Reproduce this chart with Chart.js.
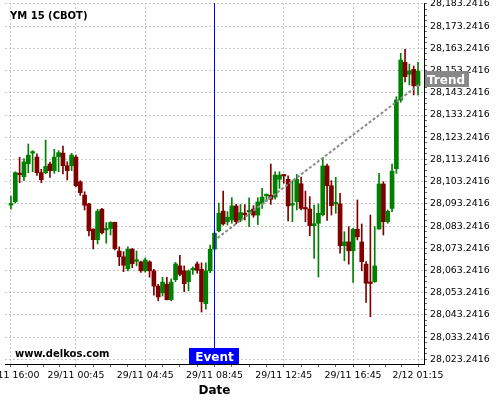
<!DOCTYPE html>
<html><head><meta charset="utf-8">
<script src="https://cdn.jsdelivr.net/npm/chart.js@4.4.0/dist/chart.umd.min.js"></script>
<style>html,body{margin:0;padding:0;background:#fff}#wrap{width:500px;height:400px}</style>
</head><body><div id="wrap"><canvas id="c" width="500" height="400"></canvas></div>
<script>
const opens = [28092.7,28094.2,28107.0,28105.5,28111.3,28116.1,28114.3,28107.3,28107.3,28111.2,
28108.2,28114.5,28116.1,28110.4,28110.4,28114.3,28103.1,28097.2,28093.2,28081.9,
28077.1,28090.8,28081.5,28082.2,28084.9,28072.0,28069.4,28064.0,28072.8,28067.4,
28067.1,28063.1,28067.1,28063.1,28056.2,28053.2,28057.1,28050.1,28059.1,28065.3,
28063.1,28058.2,28063.5,28066.2,28063.8,28048.3,28063.1,28072.9,28081.1,28090.0,
28085.2,28086.0,28092.3,28086.0,28089.0,28089.6,28090.9,28088.2,28093.2,28096.9,
28097.1,28096.3,28104.3,28106.1,28104.3,28092.7,28094.2,28102.3,28091.5,28090.9,
28083.4,28084.5,28088.4,28110.3,28101.4,28093.2,28093.2,28074.4,28076.1,28072.1,
28081.8,28076.1,28066.1,28057.6,28058.2,28081.9,28102.2,28085.2,28091.2,28109.1,
28140.0,28157.0,28151.6,28153.8,28146.4];
const highs = [28096.8,28107.7,28114.2,28113.6,28120.2,28117.2,28115.8,28108.8,28122.0,28112.1,
28117.8,28117.2,28119.3,28112.2,28116.0,28115.2,28103.7,28098.7,28093.5,28082.0,
28090.8,28091.2,28084.8,28085.2,28085.0,28073.9,28071.7,28073.9,28073.2,28072.0,
28067.5,28068.9,28067.6,28063.8,28057.0,28060.2,28060.2,28059.5,28066.9,28070.1,
28065.3,28063.5,28064.9,28067.1,28066.7,28066.7,28074.7,28080.6,28093.6,28099.0,
28089.7,28096.0,28093.0,28093.0,28092.9,28096.0,28092.4,28096.0,28100.2,28097.7,
28111.2,28107.7,28107.7,28106.5,28105.9,28103.7,28106.5,28105.3,28099.0,28096.5,
28092.7,28093.2,28114.2,28111.2,28103.7,28105.2,28098.0,28080.7,28083.0,28082.2,
28095.0,28084.2,28067.2,28088.2,28083.0,28107.0,28103.2,28090.5,28111.1,28141.5,
28161.0,28162.8,28156.2,28155.3,28157.0];
const lows = [28090.8,28093.6,28102.8,28103.7,28107.3,28107.7,28106.1,28102.8,28106.8,28105.2,
28107.0,28107.7,28106.7,28104.0,28108.2,28101.0,28097.1,28090.5,28078.8,28072.9,
28075.2,28079.7,28075.5,28079.2,28072.5,28065.4,28062.7,28063.0,28064.5,28065.3,
28062.4,28062.5,28060.2,28052.1,28049.6,28051.7,28050.0,28049.6,28058.2,28060.8,
28053.7,28054.1,28061.5,28062.0,28044.5,28045.8,28062.3,28072.5,28080.6,28083.7,
28083.7,28084.5,28084.2,28085.2,28086.0,28083.0,28087.2,28083.9,28091.2,28094.4,
28093.0,28095.4,28100.2,28102.5,28085.6,28085.2,28090.5,28090.5,28085.2,28078.9,
28068.7,28060.3,28087.8,28085.8,28088.2,28089.0,28071.0,28067.6,28066.1,28057.9,
28077.0,28063.1,28048.9,28042.4,28057.9,28081.8,28079.2,28084.5,28089.7,28107.0,
28139.0,28148.2,28146.8,28142.3,28142.3];
const closes = [28093.0,28107.3,28106.4,28112.1,28115.2,28116.5,28107.3,28104.1,28110.1,28108.2,
28114.3,28116.3,28110.4,28108.2,28115.2,28101.4,28098.3,28092.6,28081.1,28077.1,
28089.9,28080.2,28081.8,28084.9,28073.0,28069.4,28065.6,28072.8,28066.3,28067.6,
28063.1,28068.0,28063.1,28056.2,28051.3,28058.0,28050.1,28058.0,28066.2,28061.5,
28057.3,28063.0,28063.8,28063.3,28049.2,28063.1,28072.8,28080.0,28089.0,28084.2,
28087.2,28092.3,28085.2,28089.3,28088.4,28089.7,28088.2,28094.1,28096.3,28097.1,
28095.3,28106.2,28106.2,28105.8,28092.3,28092.9,28104.3,28091.2,28090.9,28083.4,
28084.3,28089.0,28110.3,28101.4,28092.4,28093.5,28074.4,28076.1,28072.1,28081.8,
28078.4,28067.2,28057.5,28057.4,28065.3,28102.2,28085.2,28089.9,28108.0,28140.0,
28158.0,28150.5,28153.1,28146.4,28153.1];
const xTickIndex = [0,15,31,47,63,79,94];
const xTickLabels = ['28/11 16:00','29/11 00:45','29/11 04:45','29/11 08:45','29/11 12:45','29/11 16:45','2/12 01:15'];
const yTickBase = 28023.2416;
const yTickStep = 10;
const yTickCount = 17;
const eventIndex = 47;
const trendPoints = [{x:47.7, y:28077.9},{x:94.5, y:28147.3}];
const trendLabelValue = 28149.4;

const Y_MIN = 28021.13, Y_MAX = 28183.69;
const X_MIN = -1.38, X_MAX = 95.38;
const UP = '#008000', DOWN = '#800000';
const candleColor = i => closes[i] >= opens[i] ? UP : DOWN;
const FONT = '"DejaVu Sans", sans-serif';
const GRID = '#c8c8c8';

const textPlugin = {
  id: 'texts',
  afterDraw(chart) {
    const ctx = chart.ctx;
    const xs = chart.scales.x, ys = chart.scales.y;
    ctx.save();
    ctx.fillStyle = '#000';
    ctx.textBaseline = 'alphabetic';
    ctx.textAlign = 'left';
    ctx.font = 'bold 10px ' + FONT;
    ctx.fillText('YM 15 (CBOT)', 10, 19);
    ctx.fillText('www.delkos.com', 15, 357);
    ctx.font = 'bold 12px ' + FONT;
    ctx.textAlign = 'center';
    ctx.fillText('Date', (chart.chartArea.left + chart.chartArea.right) / 2, 394);
    // Event label
    const ex = Math.floor(xs.getPixelForValue(eventIndex));
    const bottom = chart.chartArea.bottom;
    ctx.fillStyle = '#0000ff';
    ctx.fillRect(ex - 25, bottom - 16, 50, 16);
    ctx.fillStyle = '#fff';
    ctx.fillText('Event', ex + 0.5, bottom - 3.5);
    // Trend label
    const ty = ys.getPixelForValue(trendLabelValue);
    ctx.fillStyle = '#888888';
    ctx.fillRect(chart.chartArea.right + 1, Math.round(ty) - 8, 44, 16);
    ctx.fillStyle = '#fff';
    ctx.textAlign = 'left';
    ctx.fillText('Trend', chart.chartArea.right + 3, Math.round(ty) + 4.5);
    ctx.restore();
  }
};

new Chart(document.getElementById('c'), {
  type: 'bar',
  data: {
    datasets: [
      {
        type: 'line', order: 0,
        data: [{x: eventIndex, y: Y_MIN}, {x: eventIndex, y: Y_MAX}],
        borderColor: '#0000ff', borderWidth: 1, pointRadius: 0
      },
      {
        type: 'line', order: 0,
        data: trendPoints,
        borderColor: '#8c8c8c', borderWidth: 2, borderDash: [3, 2], pointRadius: 0
      },
      {
        order: 1, grouped: false,
        data: opens.map((o, i) => ({x: i, y: [o, closes[i]]})),
        backgroundColor: ctx => candleColor(ctx.dataIndex),
        barThickness: 4, minBarLength: 1.5, borderWidth: 0
      },
      {
        order: 2, grouped: false,
        data: opens.map((o, i) => ({x: i, y: [lows[i], highs[i]]})),
        backgroundColor: ctx => candleColor(ctx.dataIndex),
        barThickness: 1, borderWidth: 0
      }
    ]
  },
  options: {
    responsive: false, animation: false, devicePixelRatio: 1,
    layout: {padding: {left: 5, top: 3, right: 0, bottom: 0}},
    plugins: {legend: {display: false}, tooltip: {enabled: false}, title: {display: false}},
    scales: {
      x: {
        type: 'linear', position: 'bottom', min: X_MIN, max: X_MAX, offset: false,
        afterBuildTicks: s => {
          const t = [];
          for (let k = 0; k < xTickIndex.length; k++) {
            t.push({value: xTickIndex[k], lab: xTickLabels[k]});
            if (k < xTickIndex.length - 1) {
              const a = xTickIndex[k], b = xTickIndex[k + 1];
              for (let m = 1; m < 4; m++) t.push({value: a + (b - a) * m / 4, lab: ''});
            }
          }
          s.ticks = t;
        },
        afterFit: s => { s.height = 36; s.paddingLeft = 0; s.paddingRight = 0; },
        ticks: {
          autoSkip: false, maxRotation: 0, minRotation: 0, padding: 3, color: '#000',
          font: {family: FONT, size: 9.4},
          callback: (v, i, t) => t[i].lab
        },
        grid: {
          offset: false,
          color: c => (c.tick && c.tick.lab) ? GRID : 'rgba(0,0,0,0)',
          tickColor: '#666', tickLength: 3, lineWidth: 1
        },
        border: {display: true, color: '#000', width: 1, dash: [2, 2]}
      },
      y: {
        type: 'linear', position: 'right', min: Y_MIN, max: Y_MAX, beginAtZero: false,
        afterBuildTicks: s => {
          const t = [];
          const n = (yTickCount - 1) * 4;
          for (let k = 0; k <= n; k++) t.push({value: yTickBase + k * yTickStep / 4, major4: k % 4 === 0});
          s.ticks = t;
        },
        afterFit: s => { s.width = 76; s.paddingTop = 0; s.paddingBottom = 0; },
        ticks: {
          autoSkip: false, padding: 3, color: '#000',
          font: {family: FONT, size: 9.4},
          callback: (v, i, t) => t[i].major4 ? v.toLocaleString('en-US', {minimumFractionDigits: 4, maximumFractionDigits: 4}) : ''
        },
        grid: {
          color: c => (c.tick && c.tick.major4) ? GRID : 'rgba(0,0,0,0)',
          tickColor: '#666', tickLength: 3, lineWidth: 1
        },
        border: {display: true, color: '#000', width: 1, dash: [2, 2]}
      }
    }
  },
  plugins: [textPlugin]
});
</script>
</body></html>
